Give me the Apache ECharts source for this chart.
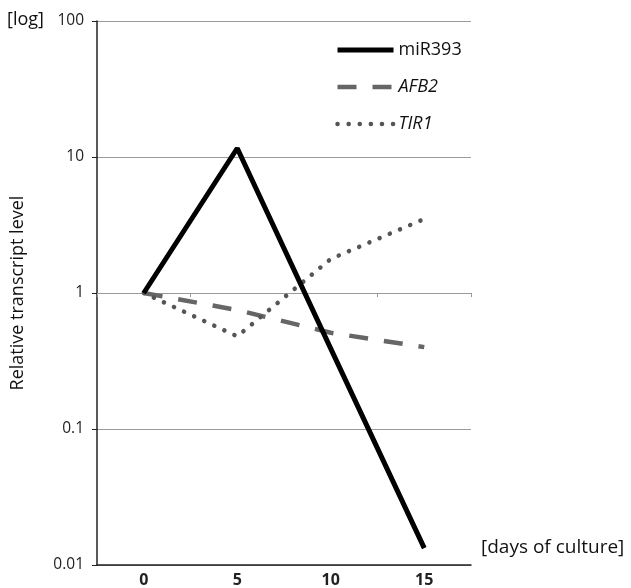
<!DOCTYPE html>
<html><head><meta charset="utf-8">
<script src="https://cdn.jsdelivr.net/npm/echarts@6/dist/echarts.min.js"></script>
<style>html,body{margin:0;padding:0;background:#fff}#c{width:631px;height:588px}</style>
</head><body><div id="c"></div>
<script>
const days = ['0', '5', '10', '15'];
const miR393 = [1, 11.6, 0.39, 0.0133];
const AFB2 = [1, 0.75, 0.51, 0.40];
const TIR1 = [1, 0.48, 1.78, 3.5];
const FONT = 'Open Sans';
const chart = echarts.init(document.getElementById('c'));
chart.setOption({
  animation: false,
  textStyle: { fontFamily: FONT },
  grid: { left: 97, right: 160, top: 21, bottom: 23 },
  legend: {
    orient: 'vertical', left: 330, top: 36, itemWidth: 56, itemHeight: 10, itemGap: 19,
    itemStyle: { opacity: 0 },
    lineStyle: { width: 'inherit' },
    textStyle: { fontSize: 18, color: '#111', fontFamily: FONT, rich: { i: { fontStyle: 'italic', fontSize: 18, color: '#111', fontFamily: FONT } } },
    formatter: n => n === 'miR393' ? n : '{i|' + n + '}',
    data: ['miR393', 'AFB2', 'TIR1']
  },
  xAxis: [{
    type: 'category', data: days, boundaryGap: true,
    axisLine: { show: true, onZero: false, lineStyle: { color: '#222', width: 1.5 } },
    axisTick: { show: false },
    axisLabel: { fontSize: 16, fontWeight: 'bold', color: '#222', margin: 7 }
  }, {
    type: 'category', data: days, boundaryGap: true, position: 'bottom', offset: -272,
    axisLine: { show: false },
    axisTick: { show: true, length: 4, lineStyle: { color: '#999' } },
    axisLabel: { show: false }
  }],
  yAxis: {
    type: 'log', logBase: 10, min: 0.01, max: 100,
    name: 'Relative transcript level', nameLocation: 'middle', nameGap: 70,
    nameTextStyle: { fontSize: 18, color: '#111' },
    axisLine: { show: true, lineStyle: { color: '#222', width: 1.5 } },
    axisTick: { show: true, length: 5, lineStyle: { color: '#222' } },
    axisLabel: { fontSize: 15.5, color: '#222', margin: 13 },
    splitLine: { show: true, lineStyle: { color: '#9a9a9a', width: 1 } }
  },
  graphic: [
    { type: 'text', left: 7, top: 11, style: { text: '[log]', fontSize: 18, fill: '#111', fontFamily: FONT } },
    { type: 'text', left: 481, top: 538, style: { text: '[days of culture]', fontSize: 19, fill: '#111', fontFamily: FONT } }
  ],
  series: [
    { name: 'miR393', type: 'line', data: miR393, symbol: 'none', z: 3, color: '#000',
      lineStyle: { color: '#000', width: 5 } },
    { name: 'AFB2', type: 'line', data: AFB2, symbol: 'none', z: 2, color: '#666',
      lineStyle: { color: '#666', width: 4.5, type: [19, 16] } },
    { name: 'TIR1', type: 'line', data: TIR1, symbol: 'none', z: 2, color: '#555',
      lineStyle: { color: '#555', width: 4.5, type: [0.1, 11], cap: 'round' } }
  ]
});
</script></body></html>
